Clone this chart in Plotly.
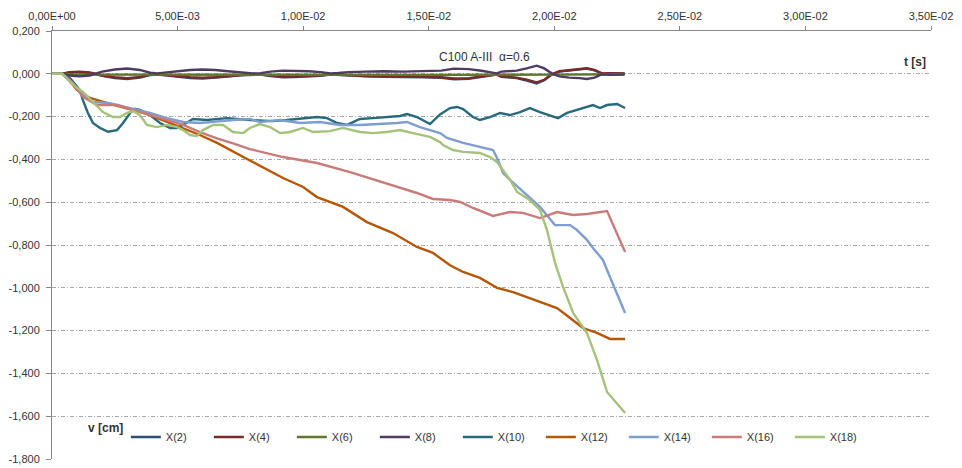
import plotly.graph_objects as go

# ---------------- data (t in s, v in cm) ----------------
x_tickvals = [0, 0.005, 0.010, 0.015, 0.020, 0.025, 0.030, 0.035]
x_ticktext = ["0,00E+00", "5,00E-03", "1,00E-02", "1,50E-02", "2,00E-02", "2,50E-02", "3,00E-02", "3,50E-02"]
y_tickvals = [0.2, 0.0, -0.2, -0.4, -0.6, -0.8, -1.0, -1.2, -1.4, -1.6, -1.8]
y_ticktext = ["0,200", "0,000", "-0,200", "-0,400", "-0,600", "-0,800", "-1,000", "-1,200", "-1,400", "-1,600", "-1,800"]

t_small = [0, 0.0004, 0.0007, 0.0011, 0.0015, 0.0017, 0.0020, 0.0025, 0.0030, 0.0035, 0.0039, 0.0042, 0.0045,
           0.0050, 0.0055, 0.0060, 0.0065, 0.0070, 0.0075, 0.0080, 0.0083, 0.0087, 0.0092, 0.0097, 0.0102, 0.0107,
           0.0111, 0.0114, 0.0118, 0.0125, 0.0132, 0.0140, 0.0148, 0.0155, 0.0160, 0.0166, 0.0171, 0.0175, 0.0177,
           0.0179, 0.0181, 0.0185, 0.0189, 0.0193, 0.0196, 0.0199, 0.0202, 0.0206, 0.0210, 0.0213, 0.0216, 0.0219,
           0.0222, 0.0225, 0.0228]
v_x2 = [0, 0, 0.006, 0.008, 0.004, 0, -0.010, -0.020, -0.025, -0.018, -0.006, -0.003, -0.007, -0.015, -0.020,
        -0.022, -0.019, -0.013, -0.007, -0.003, -0.004, -0.010, -0.016, -0.015, -0.012, -0.009, -0.003, -0.005,
        -0.009, -0.012, -0.014, -0.014, -0.016, -0.019, -0.026, -0.023, -0.015, -0.010, -0.004, -0.014, -0.016,
        -0.020, -0.032, -0.045, -0.030, -0.003, 0.010, 0.014, 0.018, 0.024, 0.016, 0.001, 0.002, 0.001, 0.001]
v_x4 = [0, 0, 0.008, 0.010, 0.006, 0, -0.008, -0.016, -0.020, -0.015, -0.004, -0.002, -0.005, -0.012, -0.016,
        -0.018, -0.016, -0.010, -0.005, -0.002, -0.003, -0.008, -0.013, -0.012, -0.010, -0.007, -0.002, -0.004,
        -0.007, -0.010, -0.012, -0.012, -0.014, -0.016, -0.022, -0.020, -0.013, -0.008, -0.003, -0.012, -0.014,
        -0.018, -0.028, -0.040, -0.028, -0.002, 0.012, 0.016, 0.020, 0.026, 0.018, 0.002, 0.003, 0.002, 0.002]
v_x8 = [0, 0, -0.008, -0.012, -0.008, 0, 0.010, 0.020, 0.025, 0.018, 0.005, 0.002, 0.006, 0.014, 0.018, 0.020,
        0.018, 0.012, 0.006, 0.002, 0.003, 0.010, 0.015, 0.014, 0.012, 0.008, 0.002, 0.004, 0.008, 0.010, 0.012,
        0.010, 0.012, 0.015, 0.024, 0.022, 0.014, 0.008, 0.002, 0.010, 0.012, 0.015, 0.025, 0.038, 0.025, 0.002,
        -0.012, -0.018, -0.020, -0.024, -0.018, -0.002, -0.005, -0.004, -0.004]

t_x6 = [0, 0.0004, 0.0010, 0.0050, 0.0100, 0.0150, 0.0200, 0.0228]
v_x6 = [0, 0, -0.004, -0.005, -0.005, -0.005, -0.004, -0.002]

t_x10 = [0, 0.0004, 0.00072, 0.00111, 0.00123, 0.00143, 0.00163, 0.00191, 0.00223, 0.00259, 0.00283, 0.00311,
         0.0033, 0.0035, 0.0039, 0.0043, 0.0047, 0.00498, 0.00522, 0.00561, 0.00617, 0.00697, 0.00788, 0.0088,
         0.00936, 0.00988, 0.01055, 0.01095, 0.01135, 0.01175, 0.01226, 0.01278, 0.01334, 0.01386, 0.01414,
         0.01453, 0.01505, 0.01545, 0.01585, 0.01613, 0.01637, 0.01676, 0.01704, 0.01744, 0.01784, 0.01824,
         0.01864, 0.01903, 0.01943, 0.01983, 0.02015, 0.02051, 0.0209, 0.0213, 0.02154, 0.02182, 0.0221, 0.0225,
         0.02282]
v_x10 = [0, 0, -0.02, -0.076, -0.123, -0.183, -0.23, -0.253, -0.271, -0.263, -0.23, -0.183, -0.164, -0.169,
         -0.193, -0.23, -0.253, -0.253, -0.239, -0.211, -0.216, -0.207, -0.216, -0.221, -0.216, -0.211, -0.202,
         -0.207, -0.23, -0.239, -0.211, -0.207, -0.202, -0.197, -0.188, -0.202, -0.235, -0.19, -0.16, -0.155,
         -0.165, -0.202, -0.216, -0.202, -0.183, -0.193, -0.179, -0.16, -0.179, -0.193, -0.207, -0.183, -0.169,
         -0.155, -0.146, -0.16, -0.146, -0.141, -0.16]

t_x12 = [0, 0.0004, 0.0006, 0.001, 0.00151, 0.00203, 0.00259, 0.00323, 0.0039, 0.00458, 0.00522, 0.00589,
         0.00657, 0.00721, 0.00788, 0.0092, 0.01, 0.01055, 0.01159, 0.01254, 0.01358, 0.01453, 0.01517, 0.01585,
         0.01637, 0.01704, 0.01772, 0.01836, 0.01903, 0.01971, 0.02011, 0.02063, 0.02114, 0.0217, 0.02222, 0.02282]
v_x12 = [0, 0, -0.02, -0.076, -0.113, -0.132, -0.15, -0.169, -0.193, -0.225, -0.253, -0.286, -0.323, -0.365,
         -0.405, -0.487, -0.529, -0.576, -0.622, -0.693, -0.744, -0.809, -0.837, -0.895, -0.926, -0.954, -1.0,
         -1.02, -1.048, -1.076, -1.095, -1.141, -1.188, -1.211, -1.239, -1.239]

t_x14 = [0, 0.0004, 0.0008, 0.00123, 0.00163, 0.00231, 0.00323, 0.0039, 0.00458, 0.00522, 0.00589, 0.00657,
         0.00721, 0.00788, 0.00828, 0.00908, 0.00988, 0.01067, 0.01147, 0.01226, 0.01306, 0.01374, 0.01414,
         0.01465, 0.01545, 0.01573, 0.01637, 0.01704, 0.01756, 0.01776, 0.01796, 0.01824, 0.01903, 0.01943,
         0.02003, 0.02063, 0.0209, 0.0213, 0.02154, 0.02194, 0.0221, 0.02282]
v_x14 = [0, 0, -0.04, -0.099, -0.132, -0.137, -0.164, -0.183, -0.207, -0.225, -0.23, -0.221, -0.216, -0.211,
         -0.225, -0.216, -0.23, -0.225, -0.239, -0.239, -0.235, -0.23, -0.225, -0.249, -0.277, -0.3, -0.323,
         -0.342, -0.356, -0.403, -0.464, -0.496, -0.58, -0.622, -0.707, -0.707, -0.73, -0.776, -0.814, -0.87,
         -0.917, -1.118]

t_x16 = [0, 0.0004, 0.0008, 0.00123, 0.00179, 0.00259, 0.00323, 0.0039, 0.00458, 0.00522, 0.00589, 0.00657,
         0.00721, 0.00788, 0.0092, 0.01055, 0.01187, 0.01318, 0.01453, 0.01517, 0.01585, 0.01625, 0.01676,
         0.01756, 0.01824, 0.01875, 0.01943, 0.02011, 0.02075, 0.0213, 0.0221, 0.02282]
v_x16 = [0, 0, -0.04, -0.108, -0.146, -0.146, -0.169, -0.193, -0.216, -0.239, -0.272, -0.302, -0.325, -0.352,
         -0.389, -0.417, -0.459, -0.506, -0.557, -0.585, -0.59, -0.599, -0.627, -0.664, -0.646, -0.65, -0.674,
         -0.646, -0.66, -0.655, -0.641, -0.833]

t_x18 = [0, 0.0004, 0.00084, 0.00123, 0.00163, 0.00203, 0.00243, 0.00271, 0.00299, 0.00323, 0.0035, 0.00378,
         0.00418, 0.00458, 0.00498, 0.00522, 0.0055, 0.00577, 0.00601, 0.00641, 0.00681, 0.00721, 0.00761,
         0.00788, 0.00828, 0.00868, 0.00908, 0.00948, 0.01, 0.01039, 0.01107, 0.01159, 0.01226, 0.01278, 0.01334,
         0.01386, 0.01437, 0.01505, 0.01545, 0.01557, 0.01597, 0.01637, 0.01704, 0.01744, 0.01772, 0.01804,
         0.01824, 0.01852, 0.01903, 0.01943, 0.01971, 0.02003, 0.02035, 0.02075, 0.0213, 0.0217, 0.0221, 0.02282]
v_x18 = [0, 0, -0.052, -0.085, -0.132, -0.179, -0.202, -0.202, -0.183, -0.174, -0.193, -0.239, -0.249, -0.239,
         -0.249, -0.263, -0.286, -0.291, -0.263, -0.239, -0.239, -0.272, -0.277, -0.253, -0.235, -0.249, -0.277,
         -0.272, -0.253, -0.272, -0.268, -0.253, -0.272, -0.277, -0.272, -0.263, -0.277, -0.295, -0.319, -0.333,
         -0.356, -0.365, -0.37, -0.389, -0.412, -0.464, -0.496, -0.552, -0.59, -0.636, -0.73, -0.884, -0.996,
         -1.118, -1.211, -1.337, -1.487, -1.585]

series_names = ["X(2)", "X(4)", "X(6)", "X(8)", "X(10)", "X(12)", "X(14)", "X(16)", "X(18)"]
series_t = [t_small, t_small, t_x6, t_small, t_x10, t_x12, t_x14, t_x16, t_x18]
series_v = [v_x2, v_x4, v_x6, v_x8, v_x10, v_x12, v_x14, v_x16, v_x18]
series_colors = ["#2C4D75", "#772C2A", "#5F7530", "#4D3B62", "#276A7C", "#B65708", "#7D9ECF", "#C97B7A", "#A5C27A"]

# ---------------- figure ----------------
FONT = "Liberation Sans, Arial, sans-serif"
TXT = "#333333"

fig = go.Figure()
for name, t, v, c in zip(series_names, series_t, series_v, series_colors):
    fig.add_trace(go.Scatter(x=t, y=v, mode="lines", name=name,
                             line=dict(color=c, width=2.4)))

fig.update_layout(
    width=962, height=468,
    margin=dict(l=52, r=31, t=31, b=9, pad=0, autoexpand=False),
    paper_bgcolor="white", plot_bgcolor="white",
    font=dict(family=FONT, size=11, color=TXT),
    showlegend=True,
    legend=dict(orientation="h", x=0.084, xanchor="left", y=0.0514, yanchor="middle",
                bgcolor="rgba(0,0,0,0)", font=dict(size=11, color=TXT),
                entrywidth=38, entrywidthmode="pixels", itemwidth=30),
    xaxis=dict(side="top", range=[0, 0.035], tickmode="array", tickvals=x_tickvals, ticktext=x_ticktext,
               ticks="outside", ticklen=4, tickcolor="#868686", showline=True, linecolor="#868686",
               linewidth=1, showgrid=False, zeroline=False, automargin=False, ticklabelstandoff=2,
               tickfont=dict(size=11, color=TXT)),
    yaxis=dict(range=[-1.8, 0.2], tickmode="array", tickvals=y_tickvals, ticktext=y_ticktext,
               ticks="outside", ticklen=5, tickcolor="#868686", showline=True, linecolor="#868686",
               linewidth=1, showgrid=True, gridcolor="#A8A8A8", griddash="4px,2px,1px,2px", gridwidth=1,
               zeroline=False, automargin=False, ticklabelstandoff=4,
               tickfont=dict(size=11, color=TXT)),
    annotations=[
        dict(text="C100 A-III  α=0.6", x=0.4926, y=0.960, xref="paper", yref="paper",
             showarrow=False, font=dict(size=12, color=TXT)),
        dict(text="<b>t [s]</b>", x=0.9966, y=0.9486, xref="paper", yref="paper", xanchor="right",
             showarrow=False, font=dict(size=12, color=TXT)),
        dict(text="<b>v [cm]</b>", x=0.0387, y=0.0514, xref="paper", yref="paper",
             showarrow=False, font=dict(size=12, color=TXT)),
    ],
)

fig.write_html("out.html", config={"displayModeBar": False})
